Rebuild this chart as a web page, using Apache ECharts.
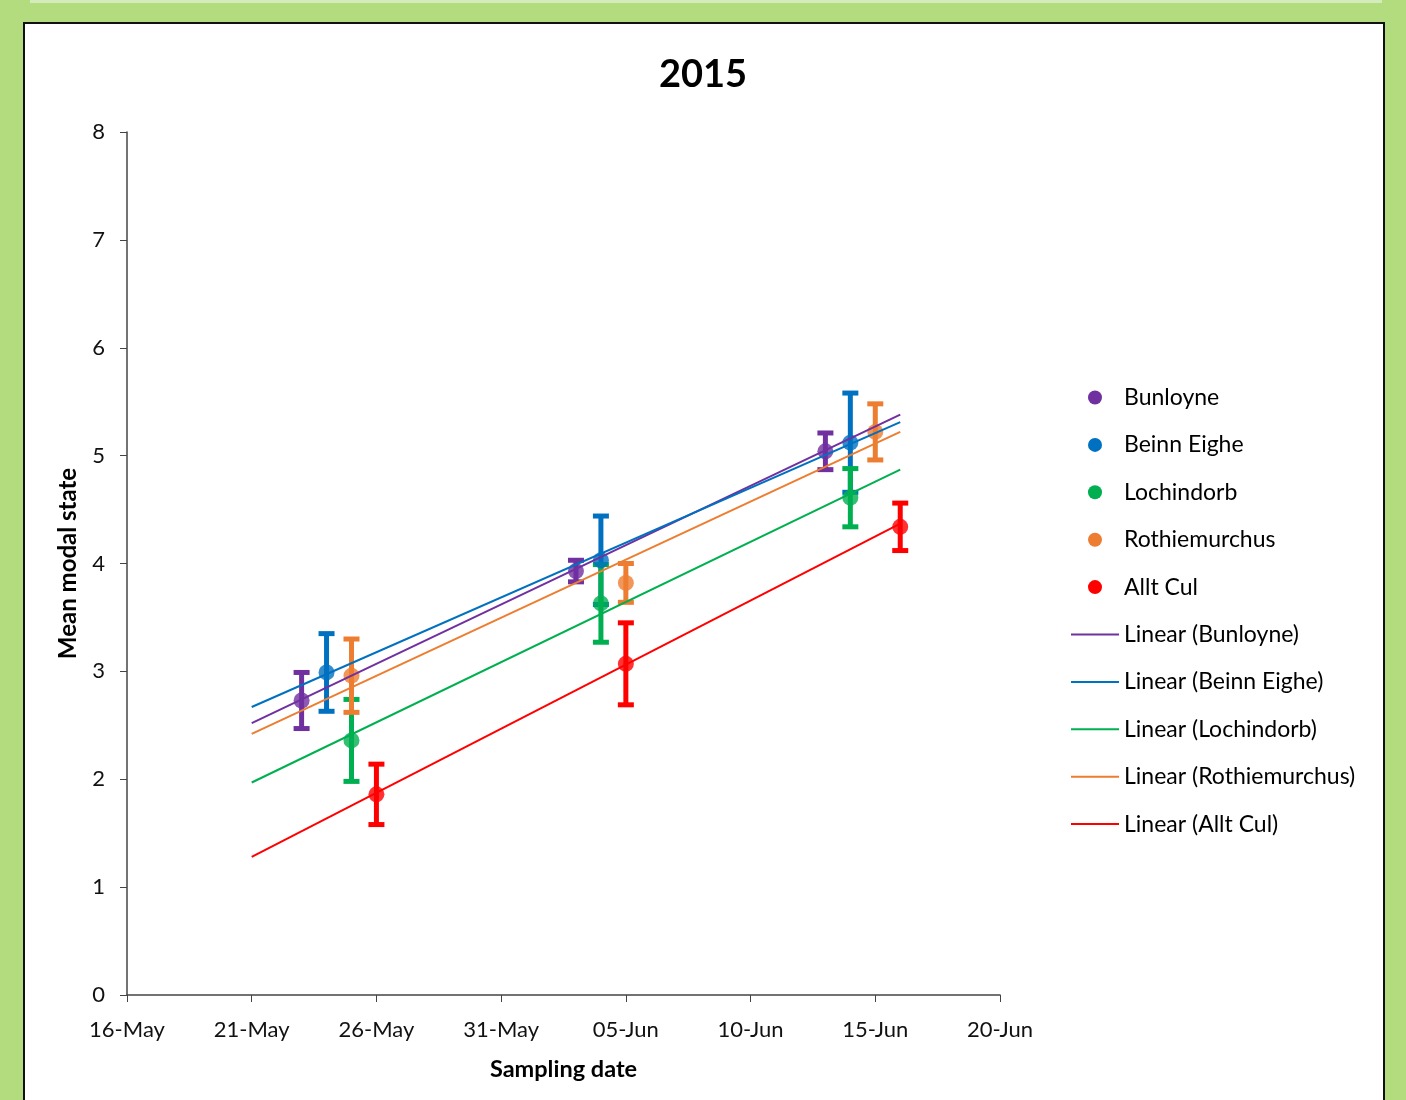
<!DOCTYPE html>
<html>
<head>
<meta charset="utf-8">
<script src="https://cdn.jsdelivr.net/npm/echarts@6/dist/echarts.min.js"></script>
<style>
  body{margin:0;background:#b2dc7e;width:1406px;height:1100px;overflow:hidden;position:relative;}
  .strip{position:absolute;left:30px;top:0;width:1352px;height:3px;background:#d4ecbc;}
  .panel{position:absolute;left:23px;top:22px;width:1358px;height:1100px;background:#fff;border:2px solid #111;}
  #main{position:absolute;left:0;top:0;width:1406px;height:1100px;}
</style>
</head>
<body>
<div class="strip"></div>
<div class="panel"></div>
<div id="main"></div>
<script>
// start of x axis, and the axis tick labels (every 5 days)
var startDate = '2015-05-16';
var xTickLabels = ['16-May','21-May','26-May','31-May','05-Jun','10-Jun','15-Jun','20-Jun'];

var sites = ['Bunloyne','Beinn Eighe','Lochindorb','Rothiemurchus','Allt Cul'];
var colors = ['#7030a0','#0070c0','#00b050','#ed7d31','#ff0000'];

// sampling dates per site
var dates = {
  'Bunloyne':      ['2015-05-23','2015-06-03','2015-06-13'],
  'Beinn Eighe':   ['2015-05-24','2015-06-04','2015-06-14'],
  'Lochindorb':    ['2015-05-25','2015-06-04','2015-06-14'],
  'Rothiemurchus': ['2015-05-25','2015-06-05','2015-06-15'],
  'Allt Cul':      ['2015-05-26','2015-06-05','2015-06-16']
};
// mean modal state
var means = {
  'Bunloyne':      [2.73, 3.93, 5.04],
  'Beinn Eighe':   [2.99, 4.03, 5.12],
  'Lochindorb':    [2.36, 3.63, 4.61],
  'Rothiemurchus': [2.96, 3.82, 5.22],
  'Allt Cul':      [1.86, 3.07, 4.34]
};
// error bar half width
var errs = {
  'Bunloyne':      [0.26, 0.10, 0.17],
  'Beinn Eighe':   [0.36, 0.41, 0.46],
  'Lochindorb':    [0.38, 0.36, 0.27],
  'Rothiemurchus': [0.34, 0.18, 0.26],
  'Allt Cul':      [0.28, 0.38, 0.22]
};
// linear trend lines, read at 21-May and 16-Jun
var trendDates = ['2015-05-21','2015-06-16'];
var trends = {
  'Bunloyne':      [2.52, 5.38],
  'Beinn Eighe':   [2.67, 5.31],
  'Lochindorb':    [1.97, 4.87],
  'Rothiemurchus': [2.42, 5.22],
  'Allt Cul':      [1.28, 4.37]
};

function dayNum(d){
  return (Date.parse(d) - Date.parse(startDate)) / 86400000;
}

var font = 'Lato, "Open Sans", sans-serif';
var series = [];
var legendData = [];

sites.forEach(function(s, i){
  legendData.push({name: s, icon: 'circle'});
  series.push({
    name: s,
    type: 'custom',
    z: 3,
    itemStyle: {color: colors[i]},
    data: dates[s].map(function(d, k){
      return [dayNum(d), means[s][k] - errs[s][k], means[s][k] + errs[s][k]];
    }),
    renderItem: function(params, api){
      var lo = api.coord([api.value(0), api.value(1)]);
      var hi = api.coord([api.value(0), api.value(2)]);
      var hw = 8;
      var st = {stroke: colors[i], lineWidth: 5};
      return {
        type: 'group',
        children: [
          {type: 'line', shape: {x1: lo[0], y1: lo[1], x2: hi[0], y2: hi[1]}, style: st},
          {type: 'line', shape: {x1: lo[0]-hw, y1: lo[1], x2: lo[0]+hw, y2: lo[1]}, style: st},
          {type: 'line', shape: {x1: hi[0]-hw, y1: hi[1], x2: hi[0]+hw, y2: hi[1]}, style: st}
        ]
      };
    },
    silent: true
  });
  series.push({
    name: s,
    type: 'scatter',
    z: 4,
    symbol: 'circle',
    symbolSize: 16,
    itemStyle: {color: colors[i]},
    data: dates[s].map(function(d, k){ return [dayNum(d), means[s][k]]; })
  });
});

sites.forEach(function(s, i){
  var nm = 'Linear (' + s + ')';
  legendData.push({name: nm, icon: 'path://M0,0L48,0L48,2L0,2Z'});
  series.push({
    name: nm,
    type: 'line',
    z: 5,
    symbol: 'none',
    lineStyle: {color: colors[i], width: 2},
    itemStyle: {color: colors[i]},
    data: trendDates.map(function(d, k){ return [dayNum(d), trends[s][k]]; })
  });
});

var chart = echarts.init(document.getElementById('main'));
chart.setOption({
  animation: false,
  title: {
    text: '2015',
    left: 'center',
    top: 51,
    textStyle: {fontFamily: font, fontSize: 38, fontWeight: 'bold', color: '#000'}
  },
  legend: {
    orient: 'vertical',
    left: 1071,
    top: 386,
    padding: 0,
    itemWidth: 48,
    itemHeight: 14,
    itemGap: 24.4,
    data: legendData,
    textStyle: {fontFamily: font, fontSize: 23, color: '#000'}
  },
  grid: {left: 127, right: 406, top: 132, bottom: 105, containLabel: false},
  xAxis: {
    type: 'value',
    min: 0, max: 35, interval: 5,
    name: 'Sampling date',
    nameLocation: 'middle',
    nameGap: 62,
    nameTextStyle: {fontFamily: font, fontSize: 23.5, fontWeight: 'bold', color: '#000'},
    axisLine: {lineStyle: {color: '#444', width: 1.5}},
    axisTick: {show: true, length: 7, lineStyle: {color: '#444'}},
    splitLine: {show: false},
    axisLabel: {
      fontFamily: font, fontSize: 22, color: '#111', margin: 24,
      formatter: function(v){ return xTickLabels[Math.round(v / 5)]; }
    }
  },
  yAxis: {
    type: 'value',
    min: 0, max: 8, interval: 1,
    name: 'Mean modal state',
    nameLocation: 'middle',
    nameGap: 47,
    nameTextStyle: {fontFamily: font, fontSize: 24, fontWeight: 'bold', color: '#000'},
    axisLine: {show: true, lineStyle: {color: '#444', width: 1.5}},
    axisTick: {show: true, length: 7, lineStyle: {color: '#444'}},
    splitLine: {show: false},
    axisLabel: {fontFamily: font, fontSize: 22, color: '#111', margin: 22}
  },
  series: series
});
</script>
</body>
</html>
